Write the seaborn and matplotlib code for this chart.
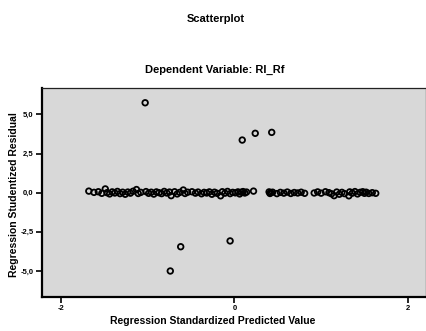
import matplotlib
matplotlib.use("Agg")
import matplotlib.pyplot as plt
import seaborn as sns
import pandas as pd
from matplotlib.ticker import FuncFormatter

# Regression diagnostics: standardized predicted values vs studentized residuals
band_x = [-1.68, -1.62, -1.57, -1.53, -1.49, -1.47, -1.44, -1.41, -1.38, -1.35,
          -1.32, -1.29, -1.26, -1.23, -1.20, -1.17, -1.13, -1.11, -1.08,
          -1.02, -0.99, -0.96, -0.93, -0.90, -0.87, -0.84, -0.81, -0.78, -0.75,
          -0.73, -0.69, -0.66, -0.63, -0.59, -0.57, -0.54,
          -0.49, -0.45, -0.42, -0.38, -0.35, -0.32, -0.29, -0.26, -0.23, -0.20,
          -0.16, -0.14, -0.11, -0.08, -0.05, -0.02, 0.01, 0.04, 0.06, 0.08,
          0.10, 0.12, 0.14,
          0.22,
          0.40, 0.41, 0.42, 0.44, 0.49, 0.53, 0.57, 0.61, 0.65, 0.69, 0.73, 0.77,
          0.81,
          0.92, 0.96, 1.00, 1.05, 1.09, 1.12, 1.15, 1.18, 1.21, 1.24, 1.27,
          1.32, 1.33, 1.36, 1.39, 1.42, 1.45, 1.48, 1.50, 1.52, 1.55, 1.59, 1.63]
band_y = [0.10, 0.02, 0.06, -0.04, 0.24, 0.00, -0.08, 0.05, -0.02, 0.08,
          -0.06, 0.03, -0.10, 0.04, -0.03, 0.09, 0.20, -0.05, 0.02,
          0.07, -0.04, 0.03, -0.09, 0.05, 0.00, -0.06, 0.08, -0.02, 0.04,
          -0.19, 0.06, -0.08, 0.02, 0.17, -0.05, 0.03,
          0.06, -0.03, 0.04, -0.07, 0.02, -0.02, 0.05, -0.10, 0.03, -0.04,
          -0.20, 0.06, -0.03, 0.08, -0.06, 0.02, -0.01, 0.05, -0.08, 0.03,
          0.07, -0.02, 0.04,
          0.10,
          0.05, -0.05, 0.00, 0.03, -0.06, 0.02, -0.03, 0.04, -0.05, 0.01, -0.02,
          0.03, -0.04,
          -0.02, 0.05, -0.03, 0.06, 0.00, -0.07, -0.19, 0.04, -0.10, 0.02, -0.06,
          -0.20, 0.05, -0.03, 0.07, -0.08, 0.02, 0.06, -0.04, 0.03, -0.05, 0.00,
          -0.04]
outlier_x = [-1.03, -0.74, -0.62, -0.05, 0.09, 0.24, 0.43]
outlier_y = [5.74, -5.00, -3.45, -3.08, 3.36, 3.79, 3.85]

x_ticks = [-2, 0, 2]
y_ticks = [-5.0, -2.5, 0.0, 2.5, 5.0]

df = pd.DataFrame({
    "pred": band_x + outlier_x,
    "resid": band_y + outlier_y,
})

sns.set_style("white")
plt.rcParams["font.family"] = ["Liberation Sans", "DejaVu Sans"]
plt.rcParams["text.color"] = "black"
plt.rcParams["xtick.color"] = "black"
plt.rcParams["ytick.color"] = "black"

fig = plt.figure(figsize=(4.26, 3.31), dpi=100)
ax = fig.add_axes([0.0986, 0.1027, 0.9014, 0.6313])
ax.set_facecolor("#d8d8d8")

sns.scatterplot(data=df, x="pred", y="resid", ax=ax, marker="o", s=16,
                facecolor="none", edgecolor="black", linewidth=1.3)

ax.set_xlim(-2.22, 2.21)
ax.set_ylim(-6.66, 6.68)
ax.set_xticks(x_ticks)
ax.set_yticks(y_ticks)
ax.xaxis.set_major_formatter(FuncFormatter(lambda v, p: f"{v:.0f}"))
ax.yaxis.set_major_formatter(FuncFormatter(lambda v, p: f"{v:.1f}".replace(".", ",")))
ax.tick_params(axis="both", direction="out", length=4, width=1.2, color="black",
               labelcolor="black", labelsize=5.5, pad=2, bottom=True, left=True)
for lab in ax.get_xticklabels() + ax.get_yticklabels():
    lab.set_fontweight("bold")

for side in ["left", "bottom"]:
    ax.spines[side].set_linewidth(1.6)
    ax.spines[side].set_color("black")
for side in ["top", "right"]:
    ax.spines[side].set_linewidth(0.9)
    ax.spines[side].set_color("#222222")

ax.set_xlabel("")
ax.set_ylabel("")
fig.text(0.5, 1 - 321.5 / 331, "Regression Standardized Predicted Value",
         ha="center", va="center", fontsize=7.5, fontweight="bold", color="black")
fig.text(14 / 426, 1 - 195 / 331, "Regression Studentized Residual",
         ha="center", va="center", rotation=90, fontsize=7.5, fontweight="bold",
         color="black")

fig.text(216 / 426, 1 - 19 / 331, "Scatterplot", ha="center", va="center",
         fontsize=8, fontweight="bold", color="black")
fig.text(215 / 426, 1 - 70 / 331, "Dependent Variable: Rl_Rf", ha="center",
         va="center", fontsize=8, fontweight="bold", color="black")

fig.savefig("out.png", dpi=100, facecolor="white")
